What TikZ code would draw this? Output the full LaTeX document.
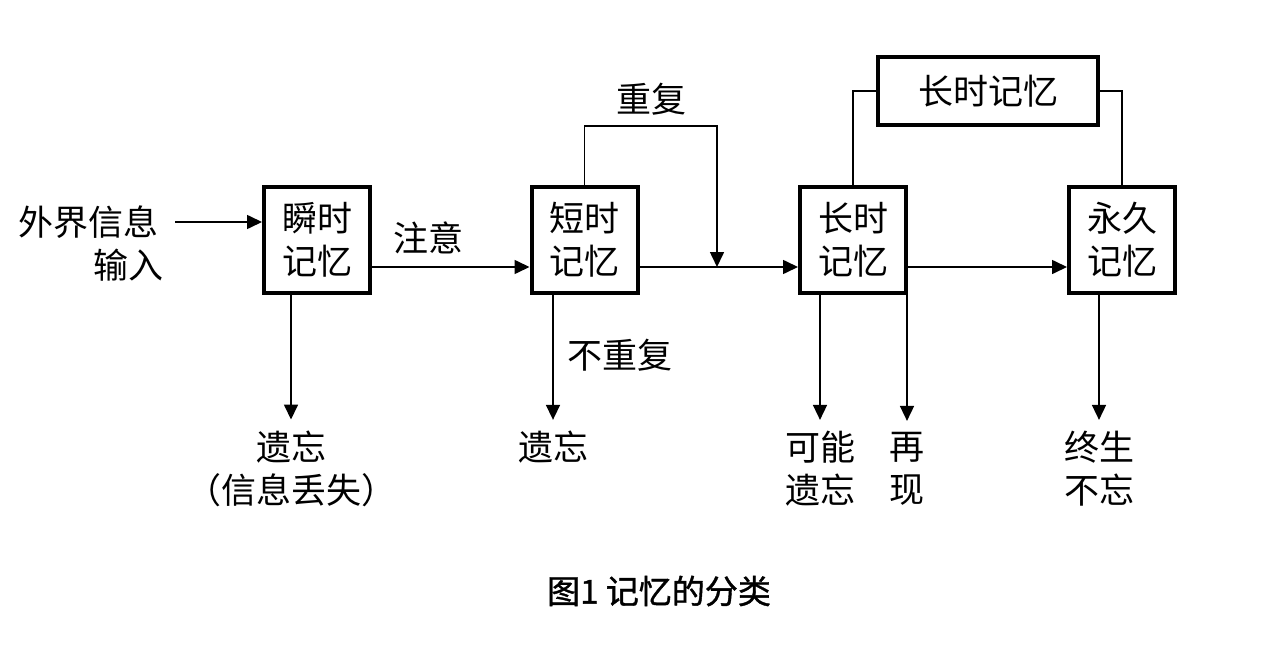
\documentclass[tikz,border=0pt]{standalone}
\usepackage{fontspec}
\setmainfont{Noto Sans CJK SC}
\newfontfamily\capfont[FakeBold=1.2]{Noto Sans CJK SC}
\usetikzlibrary{arrows.meta}
\tikzset{
    box/.style = {draw, line width = 4pt, minimum width = 106pt, minimum height = 106pt,
                  inner sep = 0pt, align = center, font = \fontsize{35}{43}\selectfont},
    txt/.style = {align = center, inner sep = 0pt, font = \fontsize{35}{43}\selectfont},
    endtxt/.style = {txt, outer sep = 11pt}, % метка под стрелкой
    arr/.style = {line width = 1.6pt, -{Triangle[length = 15pt, width = 14pt]}},
    ln/.style = {line width = 1.6pt}
}
\begin{document}
\begin{tikzpicture}[x = 1pt, y = -1pt]
    \useasboundingbox (0,0) rectangle (1276,650);
    \def \yb {240} % центр блоков
    \def \ya {267} % уровень основной стрелки

    % блоки
    \node [box] (b1) at (317,\yb) {瞬时\\记忆};
    \node [box] (b2) at (584.5,\yb) {短时\\记忆};
    \node [box] (b3) at (853,\yb) {长时\\记忆};
    \node [box] (b4) at (1122,\yb) {永久\\记忆};
    \node [box, minimum width = 220pt, minimum height = 68pt] (top) at (988,91) {长时记忆};

    % вход
    \node [txt] (in1) at (88,222) {外界信息};
    \node [txt] (in2) at (128,265) {输入};
    \coordinate (s) at (175,222);
    \draw [arr] (s) -- (b1.west |- s);

    % основная цепочка
    \draw [arr] (b1.east |- 0,\ya) -- (b2.west |- 0,\ya);
    \draw [arr] (b2.east |- 0,\ya) -- (b3.west |- 0,\ya);
    \draw [arr] (b3.east |- 0,\ya) -- (b4.west |- 0,\ya);
    \node [txt] (att) at (428,238) {注意};

    % повторение
    \coordinate (rep) at (717,\ya);
    \draw [arr] (b2.north) |- (rep |- 0,126) -- (rep);
    \node [txt] (rp) at (651,99) {重复};

    % связь через верхний блок
    \draw [ln] (b3.north) |- (top.west);
    \draw [ln] (top.east) -| (b4.north);

    % подписи снизу
    \node [endtxt] (f1) at (291,468.5) {遗忘\\（信息丢失）};
    \node [endtxt] (f2) at (553,447) {遗忘};
    \node [endtxt] (f3) at (820,468.5) {可能\\遗忘};
    \node [endtxt] (f4) at (907,468.5) {再\\现};
    \node [endtxt] (f5) at (1099,468.5) {终生\\不忘};
    \node [txt] (nr) at (620,355) {不重复};
    \foreach \b/\f in {b1/f1, b2/f2, b3/f3, b3/f4, b4/f5} { % стрелки вниз
        \draw [arr] (\b.south -| \f.north) -- (\f.north);
    }

    % подпись рисунка
    \node [txt, font = \fontsize{33}{38}\capfont] (cap) at (659,591) {图1 记忆的分类};
\end{tikzpicture}
\end{document}
